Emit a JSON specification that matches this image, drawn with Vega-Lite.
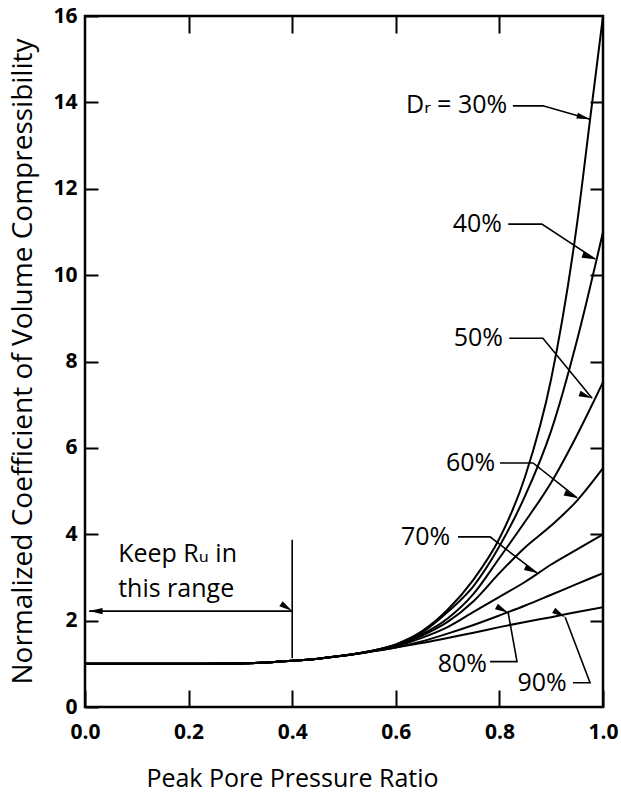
{
  "$schema": "https://vega.github.io/schema/vega-lite/v6.json",
  "width": 518,
  "height": 691,
  "autosize": "none",
  "padding": {"left": 85, "top": 16, "right": 18, "bottom": 91},
  "background": "white",
  "config": {
    "font": "Open Sans",
    "view": {"stroke": "black", "strokeWidth": 2.5},
    "axis": {"grid": false, "domain": false, "tickColor": "black", "tickWidth": 2, "labelColor": "black", "titleColor": "black"}
  },
  "datasets": {
    "curves": [
      {"Dr": "30%", "r": 0, "c": 1.0}, {"Dr": "30%", "r": 0.1, "c": 1.0}, {"Dr": "30%", "r": 0.2, "c": 1.0}, {"Dr": "30%", "r": 0.3, "c": 1.01}, {"Dr": "30%", "r": 0.35, "c": 1.03}, {"Dr": "30%", "r": 0.4, "c": 1.07}, {"Dr": "30%", "r": 0.45, "c": 1.12}, {"Dr": "30%", "r": 0.5, "c": 1.19}, {"Dr": "30%", "r": 0.55, "c": 1.29},
      {"Dr": "30%", "r": 0.6, "c": 1.45}, {"Dr": "30%", "r": 0.65, "c": 1.75}, {"Dr": "30%", "r": 0.7, "c": 2.25}, {"Dr": "30%", "r": 0.75, "c": 2.95}, {"Dr": "30%", "r": 0.8, "c": 3.9}, {"Dr": "30%", "r": 0.85, "c": 5.35}, {"Dr": "30%", "r": 0.9, "c": 7.6}, {"Dr": "30%", "r": 0.95, "c": 11.2}, {"Dr": "30%", "r": 0.975, "c": 13.6}, {"Dr": "30%", "r": 1.0, "c": 16.0},
      {"Dr": "40%", "r": 0, "c": 1.0}, {"Dr": "40%", "r": 0.1, "c": 1.0}, {"Dr": "40%", "r": 0.2, "c": 1.0}, {"Dr": "40%", "r": 0.3, "c": 1.01}, {"Dr": "40%", "r": 0.35, "c": 1.03}, {"Dr": "40%", "r": 0.4, "c": 1.07}, {"Dr": "40%", "r": 0.45, "c": 1.12}, {"Dr": "40%", "r": 0.5, "c": 1.19}, {"Dr": "40%", "r": 0.55, "c": 1.29},
      {"Dr": "40%", "r": 0.6, "c": 1.44}, {"Dr": "40%", "r": 0.65, "c": 1.72}, {"Dr": "40%", "r": 0.7, "c": 2.2}, {"Dr": "40%", "r": 0.75, "c": 2.8}, {"Dr": "40%", "r": 0.8, "c": 3.72}, {"Dr": "40%", "r": 0.85, "c": 4.9}, {"Dr": "40%", "r": 0.9, "c": 6.4}, {"Dr": "40%", "r": 0.95, "c": 8.5}, {"Dr": "40%", "r": 1.0, "c": 11.0},
      {"Dr": "50%", "r": 0, "c": 1.0}, {"Dr": "50%", "r": 0.1, "c": 1.0}, {"Dr": "50%", "r": 0.2, "c": 1.0}, {"Dr": "50%", "r": 0.3, "c": 1.01}, {"Dr": "50%", "r": 0.35, "c": 1.03}, {"Dr": "50%", "r": 0.4, "c": 1.07}, {"Dr": "50%", "r": 0.45, "c": 1.12}, {"Dr": "50%", "r": 0.5, "c": 1.19}, {"Dr": "50%", "r": 0.55, "c": 1.29},
      {"Dr": "50%", "r": 0.6, "c": 1.43}, {"Dr": "50%", "r": 0.65, "c": 1.68}, {"Dr": "50%", "r": 0.7, "c": 2.05}, {"Dr": "50%", "r": 0.75, "c": 2.62}, {"Dr": "50%", "r": 0.8, "c": 3.45}, {"Dr": "50%", "r": 0.85, "c": 4.3}, {"Dr": "50%", "r": 0.9, "c": 5.2}, {"Dr": "50%", "r": 0.95, "c": 6.3}, {"Dr": "50%", "r": 1.0, "c": 7.52},
      {"Dr": "60%", "r": 0, "c": 1.0}, {"Dr": "60%", "r": 0.1, "c": 1.0}, {"Dr": "60%", "r": 0.2, "c": 1.0}, {"Dr": "60%", "r": 0.3, "c": 1.01}, {"Dr": "60%", "r": 0.35, "c": 1.03}, {"Dr": "60%", "r": 0.4, "c": 1.07}, {"Dr": "60%", "r": 0.45, "c": 1.12}, {"Dr": "60%", "r": 0.5, "c": 1.19}, {"Dr": "60%", "r": 0.55, "c": 1.29},
      {"Dr": "60%", "r": 0.6, "c": 1.42}, {"Dr": "60%", "r": 0.65, "c": 1.65}, {"Dr": "60%", "r": 0.7, "c": 1.97}, {"Dr": "60%", "r": 0.75, "c": 2.45}, {"Dr": "60%", "r": 0.8, "c": 3.1}, {"Dr": "60%", "r": 0.85, "c": 3.7}, {"Dr": "60%", "r": 0.9, "c": 4.2}, {"Dr": "60%", "r": 0.95, "c": 4.78}, {"Dr": "60%", "r": 1.0, "c": 5.53},
      {"Dr": "70%", "r": 0, "c": 1.0}, {"Dr": "70%", "r": 0.1, "c": 1.0}, {"Dr": "70%", "r": 0.2, "c": 1.0}, {"Dr": "70%", "r": 0.3, "c": 1.01}, {"Dr": "70%", "r": 0.35, "c": 1.03}, {"Dr": "70%", "r": 0.4, "c": 1.07}, {"Dr": "70%", "r": 0.45, "c": 1.12}, {"Dr": "70%", "r": 0.5, "c": 1.19}, {"Dr": "70%", "r": 0.55, "c": 1.28},
      {"Dr": "70%", "r": 0.6, "c": 1.4}, {"Dr": "70%", "r": 0.65, "c": 1.6}, {"Dr": "70%", "r": 0.7, "c": 1.85}, {"Dr": "70%", "r": 0.75, "c": 2.2}, {"Dr": "70%", "r": 0.8, "c": 2.55}, {"Dr": "70%", "r": 0.85, "c": 2.9}, {"Dr": "70%", "r": 0.9, "c": 3.3}, {"Dr": "70%", "r": 0.95, "c": 3.65}, {"Dr": "70%", "r": 1.0, "c": 4.0},
      {"Dr": "80%", "r": 0, "c": 1.0}, {"Dr": "80%", "r": 0.1, "c": 1.0}, {"Dr": "80%", "r": 0.2, "c": 1.0}, {"Dr": "80%", "r": 0.3, "c": 1.01}, {"Dr": "80%", "r": 0.35, "c": 1.03}, {"Dr": "80%", "r": 0.4, "c": 1.07}, {"Dr": "80%", "r": 0.45, "c": 1.12}, {"Dr": "80%", "r": 0.5, "c": 1.19}, {"Dr": "80%", "r": 0.55, "c": 1.28},
      {"Dr": "80%", "r": 0.6, "c": 1.38}, {"Dr": "80%", "r": 0.65, "c": 1.52}, {"Dr": "80%", "r": 0.7, "c": 1.7}, {"Dr": "80%", "r": 0.75, "c": 1.9}, {"Dr": "80%", "r": 0.8, "c": 2.12}, {"Dr": "80%", "r": 0.85, "c": 2.35}, {"Dr": "80%", "r": 0.9, "c": 2.6}, {"Dr": "80%", "r": 0.95, "c": 2.85}, {"Dr": "80%", "r": 1.0, "c": 3.1},
      {"Dr": "90%", "r": 0, "c": 1.0}, {"Dr": "90%", "r": 0.1, "c": 1.0}, {"Dr": "90%", "r": 0.2, "c": 1.0}, {"Dr": "90%", "r": 0.3, "c": 1.01}, {"Dr": "90%", "r": 0.35, "c": 1.03}, {"Dr": "90%", "r": 0.4, "c": 1.07}, {"Dr": "90%", "r": 0.45, "c": 1.12}, {"Dr": "90%", "r": 0.5, "c": 1.19}, {"Dr": "90%", "r": 0.55, "c": 1.28},
      {"Dr": "90%", "r": 0.6, "c": 1.38}, {"Dr": "90%", "r": 0.65, "c": 1.48}, {"Dr": "90%", "r": 0.7, "c": 1.6}, {"Dr": "90%", "r": 0.75, "c": 1.72}, {"Dr": "90%", "r": 0.8, "c": 1.85}, {"Dr": "90%", "r": 0.85, "c": 1.97}, {"Dr": "90%", "r": 0.9, "c": 2.08}, {"Dr": "90%", "r": 0.95, "c": 2.2}, {"Dr": "90%", "r": 1.0, "c": 2.31}
    ],
    "leaders": [
      {"id": "30%", "o": 1, "x": 0.826, "y": 13.92}, {"id": "30%", "o": 2, "x": 0.884, "y": 13.92}, {"id": "30%", "o": 3, "x": 0.975, "y": 13.61},
      {"id": "40%", "o": 1, "x": 0.817, "y": 11.18}, {"id": "40%", "o": 2, "x": 0.882, "y": 11.18}, {"id": "40%", "o": 3, "x": 0.985, "y": 10.37},
      {"id": "50%", "o": 1, "x": 0.819, "y": 8.54}, {"id": "50%", "o": 2, "x": 0.884, "y": 8.54}, {"id": "50%", "o": 3, "x": 0.979, "y": 7.15},
      {"id": "60%", "o": 1, "x": 0.801, "y": 5.65}, {"id": "60%", "o": 2, "x": 0.865, "y": 5.65}, {"id": "60%", "o": 3, "x": 0.95, "y": 4.84},
      {"id": "70%", "o": 1, "x": 0.72, "y": 3.94}, {"id": "70%", "o": 2, "x": 0.782, "y": 3.94}, {"id": "70%", "o": 3, "x": 0.873, "y": 3.1},
      {"id": "80%", "o": 1, "x": 0.782, "y": 1.05}, {"id": "80%", "o": 2, "x": 0.834, "y": 1.05}, {"id": "80%", "o": 3, "x": 0.817, "y": 2.18},
      {"id": "90%", "o": 1, "x": 0.942, "y": 0.56}, {"id": "90%", "o": 2, "x": 0.975, "y": 0.56}, {"id": "90%", "o": 3, "x": 0.927, "y": 2.08},
      {"id": "vr", "o": 1, "x": 0.4, "y": 1.13}, {"id": "vr", "o": 2, "x": 0.4, "y": 3.87},
      {"id": "da", "o": 1, "x": 0.008, "y": 2.22}, {"id": "da", "o": 2, "x": 0.4, "y": 2.22}
    ],
    "heads": [
      {"id": "30%", "x": 0.975, "y": 13.61},
      {"id": "40%", "x": 0.985, "y": 10.37},
      {"id": "50%", "x": 0.979, "y": 7.15},
      {"id": "60%", "x": 0.95, "y": 4.84},
      {"id": "70%", "x": 0.873, "y": 3.1},
      {"id": "80%", "x": 0.817, "y": 2.18},
      {"id": "90%", "x": 0.927, "y": 2.08},
      {"id": "daR", "x": 0.4, "y": 2.22}
    ],
    "lefthead": [
      {"id": "daL", "x": 0.008, "y": 2.22}
    ],
    "labels": [
      {"g": "R", "t": "40%", "x": 0.805, "y": 11.18},
      {"g": "R", "t": "50%", "x": 0.807, "y": 8.54},
      {"g": "R", "t": "60%", "x": 0.792, "y": 5.65},
      {"g": "R", "t": "70%", "x": 0.705, "y": 3.94},
      {"g": "R", "t": "80%", "x": 0.776, "y": 1.0},
      {"g": "R", "t": "90%", "x": 0.93, "y": 0.56},
      {"g": "R", "t": "Dᵣ = 30%", "x": 0.815, "y": 13.95},
      {"g": "L", "t": "Keep Rᵤ in", "x": 0.064, "y": 3.54},
      {"g": "L", "t": "this range", "x": 0.064, "y": 2.74}
    ]
  },
  "layer": [
    {
      "data": {"name": "curves"},
      "mark": {"type": "line", "color": "black", "strokeWidth": 2, "interpolate": "monotone", "clip": true},
      "encoding": {
        "x": {"field": "r", "type": "quantitative", "scale": {"domain": [0, 1], "nice": false},
          "axis": {"orient": "bottom", "values": [0, 0.2, 0.4, 0.6, 0.8, 1], "format": ".1f", "labelFont": "Open Sans", "labelFontWeight": "bold", "labelFontSize": 21, "tickSize": -17, "labelPadding": 31, "labelFlush": false, "labelOverlap": false,
            "title": "Peak Pore Pressure Ratio", "titleFont": "Open Sans", "titleFontSize": 25, "titleFontWeight": "normal", "titleX": 207, "titleY": 71, "titleBaseline": "middle", "titleAlign": "center", "titleAnchor": null}},
        "y": {"field": "c", "type": "quantitative", "scale": {"domain": [0, 16], "nice": false},
          "axis": {"orient": "left", "values": [0, 2, 4, 6, 8, 10, 12, 14, 16], "format": "d", "labelFont": "Open Sans", "labelFontWeight": "bold", "labelFontSize": 21, "tickSize": -13, "labelPadding": 21, "labelFlush": false, "labelOverlap": false,
            "title": "Normalized Coefficient of Volume Compressibility", "titleFont": "Open Sans", "titleFontSize": 28, "titleFontWeight": "normal", "titleX": -62, "titleY": 345, "titleBaseline": "middle", "titleAlign": "center", "titleAngle": -90}},
        "detail": {"field": "Dr"}
      }
    },
    {
      "data": {"name": "leaders"},
      "mark": {"type": "line", "color": "black", "strokeWidth": 1.6},
      "encoding": {
        "x": {"field": "x", "type": "quantitative", "axis": {"orient": "top", "values": [0.2, 0.4, 0.6, 0.8], "labels": false, "tickSize": -17, "title": null}},
        "y": {"field": "y", "type": "quantitative", "axis": {"orient": "right", "values": [2, 4, 6, 8, 10, 12, 14], "labels": false, "tickSize": -13, "title": null}},
        "detail": {"field": "id"},
        "order": {"field": "o"}
      }
    },
    {
      "data": {"name": "heads"},
      "mark": {"type": "point", "shape": "M0,0 L-2,-0.45 L-2,0.45 Z", "filled": true, "color": "black", "size": 180, "opacity": 1},
      "encoding": {
        "x": {"field": "x", "type": "quantitative", "axis": null},
        "y": {"field": "y", "type": "quantitative", "axis": null},
        "angle": {"field": "id", "type": "nominal", "legend": null,
          "scale": {"domain": ["30%", "40%", "50%", "60%", "70%", "80%", "90%", "daR"], "range": [15.5, 33.4, 50.8, 38.5, 37.5, 259, 249.3, 0]}}
      }
    },
    {
      "data": {"name": "lefthead"},
      "mark": {"type": "point", "shape": "M0,0 L2,-0.45 L2,0.45 Z", "filled": true, "color": "black", "size": 180, "opacity": 1},
      "encoding": {
        "x": {"field": "x", "type": "quantitative", "axis": null},
        "y": {"field": "y", "type": "quantitative", "axis": null}
      }
    },
    {
      "data": {"name": "labels"},
      "transform": [{"filter": "datum.g == 'R'"}],
      "mark": {"type": "text", "align": "right", "baseline": "middle", "fontSize": 25, "font": "Open Sans, DejaVu Sans", "color": "black"},
      "encoding": {
        "x": {"field": "x", "type": "quantitative", "axis": null},
        "y": {"field": "y", "type": "quantitative", "axis": null},
        "text": {"field": "t"}
      }
    },
    {
      "data": {"name": "labels"},
      "transform": [{"filter": "datum.g == 'L'"}],
      "mark": {"type": "text", "align": "left", "baseline": "middle", "fontSize": 25, "font": "Open Sans, DejaVu Sans", "color": "black"},
      "encoding": {
        "x": {"field": "x", "type": "quantitative", "axis": null},
        "y": {"field": "y", "type": "quantitative", "axis": null},
        "text": {"field": "t"}
      }
    }
  ]
}
